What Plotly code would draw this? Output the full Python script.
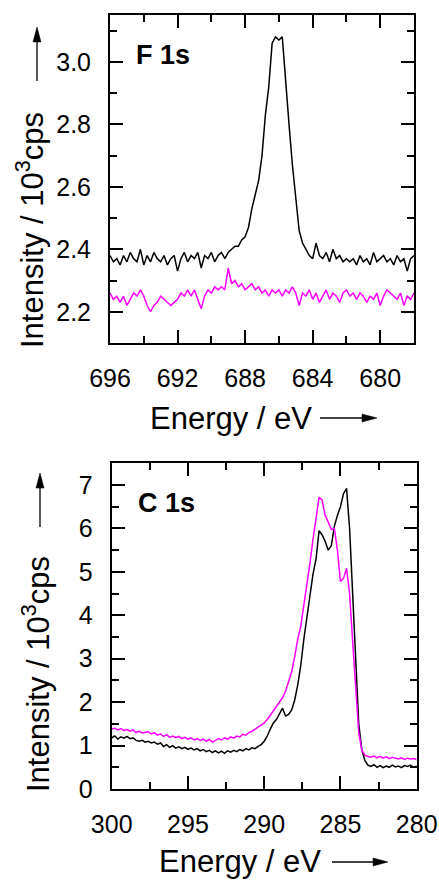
import numpy as np
import plotly.graph_objects as go

W, H = 439, 881

# ---------------- F 1s data (696 -> 678 eV, 0.2 eV step) ----------------
f_energy = np.round(np.arange(696.0, 677.99, -0.2), 1)
f_black = [2.38, 2.36, 2.37, 2.35, 2.38, 2.36, 2.39, 2.37, 2.36, 2.40,
           2.35, 2.38, 2.36, 2.39, 2.37, 2.36, 2.38, 2.35, 2.37, 2.38,
           2.33, 2.37, 2.39, 2.36, 2.38, 2.37, 2.39, 2.34, 2.38, 2.37,
           2.39, 2.36, 2.38, 2.39, 2.37, 2.39, 2.40, 2.41, 2.41, 2.43,
           2.44, 2.47, 2.53, 2.58, 2.62, 2.70, 2.83, 2.92, 3.06, 3.08,
           3.07, 3.08, 2.93, 2.80, 2.67, 2.56, 2.46, 2.42, 2.40, 2.38,
           2.37, 2.42, 2.38, 2.37, 2.39, 2.36, 2.40, 2.37, 2.38, 2.36,
           2.37, 2.36, 2.37, 2.35, 2.38, 2.36, 2.37, 2.35, 2.39, 2.36,
           2.37, 2.38, 2.36, 2.37, 2.35, 2.38, 2.36, 2.37, 2.33, 2.37,
           2.38]
f_magenta = [2.26, 2.24, 2.25, 2.23, 2.25, 2.22, 2.24, 2.26, 2.25, 2.27,
             2.25, 2.22, 2.20, 2.22, 2.23, 2.25, 2.24, 2.23, 2.22, 2.23,
             2.24, 2.26, 2.25, 2.27, 2.25, 2.27, 2.24, 2.21, 2.25, 2.27,
             2.26, 2.28, 2.27, 2.28, 2.27, 2.34, 2.29, 2.30, 2.28, 2.29,
             2.27, 2.28, 2.29, 2.27, 2.28, 2.26, 2.27, 2.25, 2.27, 2.26,
             2.27, 2.25, 2.27, 2.26, 2.28, 2.26, 2.22, 2.26, 2.25, 2.27,
             2.24, 2.26, 2.23, 2.25, 2.27, 2.24, 2.26, 2.25, 2.23, 2.26,
             2.27, 2.25, 2.26, 2.24, 2.26, 2.25, 2.23, 2.25, 2.24, 2.26,
             2.22, 2.25, 2.27, 2.26, 2.25, 2.24, 2.26, 2.22, 2.25, 2.24,
             2.26]

# ---------------- C 1s data (300 -> 280 eV, 0.2 eV step) ----------------
c_energy = np.round(np.arange(300.0, 279.99, -0.2), 1)
c_black = [1.18, 1.22, 1.15, 1.20, 1.17, 1.21, 1.16, 1.18, 1.12, 1.10,
           1.12, 1.08, 1.10, 1.06, 1.08, 1.03, 1.06, 0.98, 1.02, 0.96,
           1.00, 0.94, 0.97, 0.93, 0.96, 0.91, 0.94, 0.90, 0.93, 0.88,
           0.91, 0.86, 0.89, 0.84, 0.88, 0.83, 0.87, 0.82, 0.88, 0.85,
           0.89, 0.86, 0.91, 0.88, 0.93, 0.90, 0.95, 0.93, 0.98, 1.02,
           1.10, 1.22, 1.38, 1.52, 1.60, 1.72, 1.86, 1.68, 1.72, 1.82,
           2.05, 2.40, 2.85, 3.45, 4.00, 4.45, 4.95, 5.30, 5.95, 5.85,
           5.70, 5.50, 5.60, 6.05, 6.30, 6.50, 6.80, 6.92, 6.00, 4.50,
           2.70, 1.50, 0.90, 0.66, 0.55, 0.52, 0.56, 0.50, 0.54, 0.49,
           0.53, 0.50, 0.55, 0.51, 0.53, 0.49, 0.54, 0.52, 0.55, 0.50,
           0.53]
c_magenta = [1.38, 1.40, 1.36, 1.39, 1.35, 1.37, 1.33, 1.36, 1.30, 1.33,
             1.29, 1.31, 1.32, 1.27, 1.30, 1.24, 1.27, 1.21, 1.25, 1.19,
             1.22, 1.18, 1.21, 1.16, 1.19, 1.15, 1.18, 1.13, 1.16, 1.12,
             1.15, 1.10, 1.14, 1.08, 1.13, 1.16, 1.13, 1.18, 1.15, 1.20,
             1.17, 1.22, 1.20, 1.26, 1.24, 1.30, 1.33, 1.38, 1.42, 1.46,
             1.52, 1.60, 1.70, 1.80, 1.88, 1.98, 2.10, 2.25, 2.45, 2.70,
             3.05, 3.45, 3.75, 4.20, 4.65, 5.20, 5.75, 6.30, 6.72, 6.65,
             6.30, 6.15, 5.98, 6.00, 5.50, 4.78, 4.85, 5.08, 4.50, 3.40,
             2.30, 1.30, 0.90, 0.78, 0.75, 0.73, 0.76, 0.72, 0.75, 0.71,
             0.74, 0.70, 0.73, 0.71, 0.69, 0.72, 0.68, 0.71, 0.69, 0.70,
             0.68]

FONT = "Arial, Liberation Sans, Helvetica, sans-serif"
BLACK = "#000000"
MAGENTA = "#ff00ff"


def px_x(p):
    return p / W


def px_y(p):
    return 1 - p / H


fig = go.Figure()
fig.add_trace(go.Scatter(x=f_energy, y=f_black, mode="lines",
                         line=dict(color=BLACK, width=1.5), xaxis="x", yaxis="y"))
fig.add_trace(go.Scatter(x=f_energy, y=f_magenta, mode="lines",
                         line=dict(color=MAGENTA, width=1.5), xaxis="x", yaxis="y"))
fig.add_trace(go.Scatter(x=c_energy, y=c_black, mode="lines",
                         line=dict(color=BLACK, width=1.5), xaxis="x2", yaxis="y2"))
fig.add_trace(go.Scatter(x=c_energy, y=c_magenta, mode="lines",
                         line=dict(color=MAGENTA, width=1.5), xaxis="x2", yaxis="y2"))

axis_common = dict(showline=True, linecolor=BLACK, linewidth=2, mirror="allticks",
                   ticks="inside", ticklen=13, tickwidth=2, tickcolor=BLACK,
                   showgrid=False, zeroline=False, automargin=False,
                   tickfont=dict(family=FONT, size=25, color=BLACK))
minor_common = dict(ticks="inside", ticklen=7, tickwidth=2, tickcolor=BLACK)

fig.update_layout(
    width=W, height=H, margin=dict(l=0, r=0, t=0, b=0),
    paper_bgcolor="white", plot_bgcolor="white", showlegend=False,
    xaxis=dict(axis_common, domain=[px_x(110), px_x(414)], anchor="y",
               range=[696, 678], tickvals=[696, 692, 688, 684, 680],
               minor=dict(minor_common, tickvals=[694, 690, 686, 682]),
               ticklabelstandoff=12),
    yaxis=dict(axis_common, domain=[px_y(343), px_y(15)], anchor="x",
               range=[2.1, 3.15], tickvals=[2.2, 2.4, 2.6, 2.8, 3.0],
               tickformat=".1f",
               minor=dict(minor_common, tickvals=[2.1, 2.3, 2.5, 2.7, 2.9, 3.1]),
               ticklabelstandoff=12),
    xaxis2=dict(axis_common, domain=[px_x(111.7), px_x(416.7)], anchor="y2",
                range=[300, 280], tickvals=[300, 295, 290, 285, 280],
                minor=dict(minor_common, tickvals=[297.5, 292.5, 287.5, 282.5]),
                ticklabelstandoff=12),
    yaxis2=dict(axis_common, domain=[px_y(789), px_y(463.3)], anchor="x2",
                range=[0, 7.5], tickvals=[0, 1, 2, 3, 4, 5, 6, 7],
                minor=dict(minor_common, tickvals=[0.5, 1.5, 2.5, 3.5, 4.5, 5.5, 6.5]),
                ticklabelstandoff=12),
)

TFONT = dict(family=FONT, size=31, color=BLACK)
ann = []
ann.append(dict(text="<b>F 1s</b>", x=px_x(134), y=px_y(55), xref="paper", yref="paper",
                xanchor="left", yanchor="middle", showarrow=False,
                font=dict(family=FONT, size=27, color=BLACK)))
ann.append(dict(text="<b>C 1s</b>", x=px_x(136), y=px_y(503), xref="paper", yref="paper",
                xanchor="left", yanchor="middle", showarrow=False,
                font=dict(family=FONT, size=27, color=BLACK)))
ann.append(dict(text="Energy / eV", x=px_x(148), y=px_y(418), xref="paper", yref="paper",
                xanchor="left", yanchor="middle", showarrow=False, font=TFONT))
ann.append(dict(text="Energy / eV", x=px_x(157), y=px_y(861), xref="paper", yref="paper",
                xanchor="left", yanchor="middle", showarrow=False, font=TFONT))
ann.append(dict(text="Intensity / 10<sup>3</sup>cps", x=px_x(30), y=px_y(230),
                xref="paper", yref="paper", xanchor="center", yanchor="middle",
                textangle=-90, showarrow=False, font=TFONT))
ann.append(dict(text="Intensity / 10<sup>3</sup>cps", x=px_x(36), y=px_y(674),
                xref="paper", yref="paper", xanchor="center", yanchor="middle",
                textangle=-90, showarrow=False, font=TFONT))
fig.update_layout(annotations=ann)

# axis-title arrows (decorations, in paper coordinates)
shapes = []


def h_arrow(x0, x1, y):
    shapes.append(dict(type="line", xref="paper", yref="paper",
                       x0=px_x(x0), x1=px_x(x1 - 12), y0=px_y(y), y1=px_y(y),
                       line=dict(color=BLACK, width=1.3)))
    shapes.append(dict(type="path", xref="paper", yref="paper",
                       path=f"M {px_x(x1)} {px_y(y)} L {px_x(x1 - 15)} {px_y(y - 4)} "
                            f"L {px_x(x1 - 15)} {px_y(y + 4)} Z",
                       fillcolor=BLACK, line=dict(color=BLACK, width=0.5)))


def v_arrow(x, y0, y1):
    shapes.append(dict(type="line", xref="paper", yref="paper",
                       x0=px_x(x), x1=px_x(x), y0=px_y(y0), y1=px_y(y1 + 12),
                       line=dict(color=BLACK, width=1.3)))
    shapes.append(dict(type="path", xref="paper", yref="paper",
                       path=f"M {px_x(x)} {px_y(y1)} L {px_x(x - 4)} {px_y(y1 + 15)} "
                            f"L {px_x(x + 4)} {px_y(y1 + 15)} Z",
                       fillcolor=BLACK, line=dict(color=BLACK, width=0.5)))


h_arrow(320, 377, 418)
h_arrow(332, 388, 862)
v_arrow(37, 81, 27)
v_arrow(40, 527, 473)
fig.update_layout(shapes=shapes)

fig.write_html("out.html", config={"displayModeBar": False},
               post_script="document.body.style.margin='0';document.body.style.overflow='hidden';")
